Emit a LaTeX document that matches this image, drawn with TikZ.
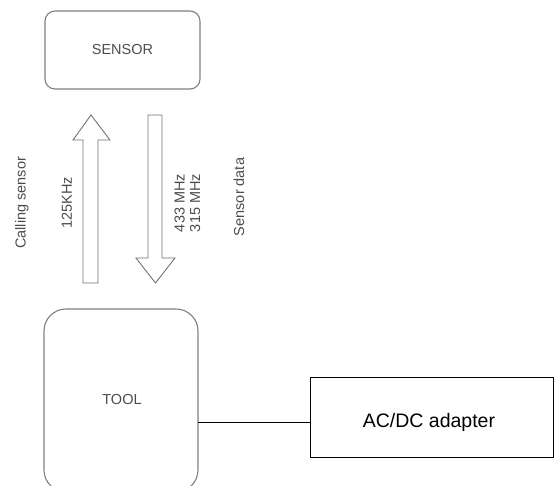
\documentclass[tikz,border=0pt]{standalone}
\usepackage{fontspec}
\setmainfont{Liberation Sans}
\begin{document}
\begin{tikzpicture}[x=1pt,y=-1pt,
  graybox/.style={draw=black!50,line width=1.1pt,rounded corners=#1,inner sep=0pt},
  smalltxt/.style={text=black!70,font=\fontsize{14.5}{17}\selectfont},
  blockarrow/.style={draw=black!55,line width=0.9pt,fill=white,line join=miter}]
\useasboundingbox (0,0) rectangle (555,486);
\clip (0,0) rectangle (555,486);
% boxes
\draw[graybox=10pt] (45,11) rectangle (200,89);
\node[smalltxt] (sensor) at (122.5,50) {SENSOR};
\draw[graybox=22pt] (44,309) rectangle (198,492);
\node[smalltxt] (tool) at (122,400) {TOOL};
\coordinate (toolE) at (198,422);
\node[draw=black,line width=0.9pt,minimum width=243pt,minimum height=80pt,inner sep=0pt] (adapter) at (431.5,417.5) {};
\node[font=\fontsize{19.5}{22}\selectfont] (adtext) at (429,422) {AC/DC adapter};
\coordinate (adW) at (310,422);
\draw[line width=0.9pt] (toolE) -- (adW);
% block arrows
\draw[blockarrow] (83,283) -- (83,140) -- (73,140) -- (91,115) -- (110,140) -- (98,140) -- (98,283) -- cycle;
\draw[blockarrow] (148,115) -- (162,115) -- (162,258) -- (175,258) -- (155.5,283) -- (136,258) -- (148,258) -- cycle;
% labels
\node[smalltxt,rotate=90] (calling) at (22,203) {Calling sensor};
\node[smalltxt,rotate=90] (khz) at (67,203) {125KHz};
\node[smalltxt,rotate=90,align=center,font=\fontsize{14.5}{15.5}\selectfont] (mhz) at (187.5,203) {433 MHz\\315 MHz};
\node[smalltxt,rotate=90] (sdata) at (239,197) {Sensor data};
\end{tikzpicture}
\end{document}
